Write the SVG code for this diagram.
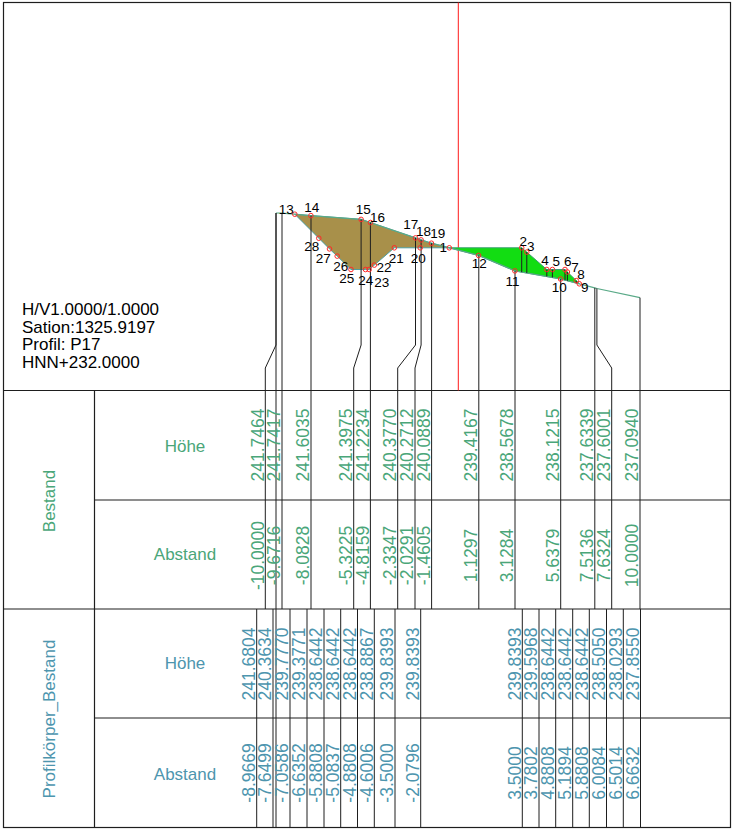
<svg xmlns="http://www.w3.org/2000/svg" width="736" height="832" viewBox="0 0 736 832">
<style>
.ln{stroke:#1e1e1e;stroke-width:1;fill:none}
.grid{stroke:#1e1e1e;stroke-width:1.2;fill:none}
.tx{font-family:"Liberation Sans",Arial,sans-serif}
.bt{font-family:"Liberation Sans",Arial,sans-serif;font-size:17.5px;fill:#4aa679;text-anchor:middle}
.pk{font-family:"Liberation Sans",Arial,sans-serif;font-size:17.5px;fill:#4d95ae;text-anchor:middle}
.rl{font-size:17px}
.lab{font-family:"Liberation Sans",Arial,sans-serif;font-size:13.5px;fill:#000;text-anchor:middle}
.pc{fill:none;stroke:#ff2a2a;stroke-width:1}
</style>
<rect width="736" height="832" fill="#fff"/>
<g id="frame">
<rect x="3.5" y="2.5" width="727" height="825" class="grid" stroke="#333"/>
<line x1="3.5" y1="390.5" x2="730.5" y2="390.5" class="grid"/>
<line x1="3.5" y1="609" x2="730.5" y2="609" class="grid"/>
<line x1="94.5" y1="500" x2="730.5" y2="500" class="grid"/>
<line x1="94.5" y1="718" x2="730.5" y2="718" class="grid"/>
<line x1="94.5" y1="390.5" x2="94.5" y2="827.5" class="grid"/>
</g>
<g id="info" class="tx" font-size="17" fill="#000">
<text x="22" y="315">H/V1.0000/1.0000</text>
<text x="22" y="332.7">Sation:1325.9197</text>
<text x="22" y="350.4">Profil: P17</text>
<text x="22" y="368">HNN+232.0000</text>
</g>
<g id="axis">
<line x1="458.3" y1="2.5" x2="458.3" y2="390.5" stroke="#ff1a1a" stroke-width="1"/>
</g>
<g id="profile">
<polygon points="294.8,214.2 310.9,215.6 361.1,219.35 370.35,222.5 415.5,237.9 421.07,239.85 431.4,243.2 449.3,247.8 420.2,247.8 394.3,247.8 374.3,265.1 369.2,269.5 365.5,269.5 351,269.5 337.2,256.1 329.5,248.9 318.8,238.2" fill="#a8904a" stroke="#4e9ea0" stroke-width="1"/>
<polygon points="449.3,247.8 521.7,247.8 526.8,252.1 546.8,269.5 552.4,269.5 565,269.5 567.4,272 576.3,280.6 579.3,283.8 560.6,279 514.94,270.85 478.56,255.4" fill="#12dd12" stroke="#3aa070" stroke-width="1"/>
<polyline points="276,213 281.98,213.09 310.9,215.6 361.1,219.35 370.35,222.5 415.5,237.9 421.07,239.85 431.4,243.2 478.56,255.4 514.94,270.85 560.6,279 594.75,287.85 596.9,288.5 640,297.7" fill="none" stroke="#5aaa88" stroke-width="1.2"/>
</g>
<g id="connectors">
<polyline class="ln" points="276,213 276,345 265.3,368 265.3,609"/>
<line class="ln" x1="276" y1="213" x2="276" y2="827.5"/>
<line class="ln" x1="282" y1="213" x2="282" y2="609"/>
<line class="ln" x1="311" y1="215.6" x2="311" y2="609"/>
<polyline class="ln" points="361.1,219.4 361.1,345 353.7,368 353.7,609"/>
<line class="ln" x1="370.4" y1="222.5" x2="370.4" y2="609"/>
<polyline class="ln" points="415.5,237.9 415.5,345 397.7,368 397.7,609"/>
<polyline class="ln" points="421.1,239.9 421.1,345 415,368 415,609"/>
<line class="ln" x1="431.6" y1="243.2" x2="431.6" y2="609"/>
<line class="ln" x1="478.8" y1="255.4" x2="478.8" y2="609"/>
<line class="ln" x1="515" y1="270.9" x2="515" y2="609"/>
<line class="ln" x1="560.7" y1="279" x2="560.7" y2="609"/>
<line class="ln" x1="594.8" y1="287.9" x2="594.8" y2="609"/>
<polyline class="ln" points="596.9,288.5 596.9,345 611.7,368 611.7,609"/>
<line class="ln" x1="640" y1="297.7" x2="640" y2="609"/>
<line class="ln" x1="521.7" y1="247.8" x2="521.7" y2="272.1"/>
<line class="ln" x1="526.8" y1="252.1" x2="526.8" y2="273"/>
<line class="ln" x1="546.8" y1="269.5" x2="546.8" y2="276.5"/>
<line class="ln" x1="552.4" y1="269.5" x2="552.4" y2="277.5"/>
<line class="ln" x1="565" y1="269.5" x2="565" y2="280.1"/>
<line class="ln" x1="567.4" y1="272" x2="567.4" y2="280.8"/>
<line class="ln" x1="576.3" y1="280.6" x2="576.3" y2="283.1"/>
<line class="ln" x1="256.7" y1="609" x2="256.7" y2="827.5"/>
<line class="ln" x1="273" y1="609" x2="273" y2="827.5"/>
<line class="ln" x1="290" y1="609" x2="290" y2="827.5"/>
<line class="ln" x1="307" y1="609" x2="307" y2="827.5"/>
<line class="ln" x1="324" y1="609" x2="324" y2="827.5"/>
<line class="ln" x1="340.7" y1="609" x2="340.7" y2="827.5"/>
<line class="ln" x1="357.5" y1="609" x2="357.5" y2="827.5"/>
<line class="ln" x1="374.3" y1="609" x2="374.3" y2="827.5"/>
<line class="ln" x1="395" y1="609" x2="395" y2="827.5"/>
<line class="ln" x1="420.7" y1="609" x2="420.7" y2="827.5"/>
<line class="ln" x1="522.3" y1="609" x2="522.3" y2="827.5"/>
<line class="ln" x1="539" y1="609" x2="539" y2="827.5"/>
<line class="ln" x1="555.7" y1="609" x2="555.7" y2="827.5"/>
<line class="ln" x1="572.7" y1="609" x2="572.7" y2="827.5"/>
<line class="ln" x1="589.3" y1="609" x2="589.3" y2="827.5"/>
<line class="ln" x1="606.5" y1="609" x2="606.5" y2="827.5"/>
<line class="ln" x1="623.3" y1="609" x2="623.3" y2="827.5"/>
<line class="ln" x1="640.5" y1="609" x2="640.5" y2="827.5"/>
</g>
<g id="points">
<circle class="pc" cx="294.8" cy="214.2" r="2.3"/>
<circle class="pc" cx="310.9" cy="215.6" r="2.3"/>
<circle class="pc" cx="361.1" cy="219.4" r="2.3"/>
<circle class="pc" cx="370.4" cy="222.5" r="2.3"/>
<circle class="pc" cx="415.5" cy="237.9" r="2.3"/>
<circle class="pc" cx="421.1" cy="239.9" r="2.3"/>
<circle class="pc" cx="431.4" cy="243.2" r="2.3"/>
<circle class="pc" cx="449.3" cy="247.8" r="2.3"/>
<circle class="pc" cx="420.2" cy="247.8" r="2.3"/>
<circle class="pc" cx="394.3" cy="247.8" r="2.3"/>
<circle class="pc" cx="374.3" cy="265.1" r="2.3"/>
<circle class="pc" cx="369.2" cy="269.5" r="2.3"/>
<circle class="pc" cx="365.5" cy="269.5" r="2.3"/>
<circle class="pc" cx="351" cy="269.5" r="2.3"/>
<circle class="pc" cx="337.2" cy="256.1" r="2.3"/>
<circle class="pc" cx="329.5" cy="248.9" r="2.3"/>
<circle class="pc" cx="318.8" cy="238.2" r="2.3"/>
<circle class="pc" cx="478.6" cy="255.4" r="2.3"/>
<circle class="pc" cx="521.7" cy="247.8" r="2.3"/>
<circle class="pc" cx="526.8" cy="252.1" r="2.3"/>
<circle class="pc" cx="514.9" cy="270.9" r="2.3"/>
<circle class="pc" cx="546.8" cy="269.5" r="2.3"/>
<circle class="pc" cx="552.4" cy="269.5" r="2.3"/>
<circle class="pc" cx="565" cy="269.5" r="2.3"/>
<circle class="pc" cx="567.4" cy="272" r="2.3"/>
<circle class="pc" cx="560.6" cy="279" r="2.3"/>
<circle class="pc" cx="576.3" cy="280.6" r="2.3"/>
<circle class="pc" cx="579.3" cy="283.8" r="2.3"/>
</g>
<g id="point-labels">
<text class="lab" x="286.3" y="214.3">13</text>
<text class="lab" x="311.7" y="211.7">14</text>
<text class="lab" x="363.3" y="214">15</text>
<text class="lab" x="377.5" y="222.3">16</text>
<text class="lab" x="410.8" y="229.3">17</text>
<text class="lab" x="423.5" y="236">18</text>
<text class="lab" x="437.8" y="238.3">19</text>
<text class="lab" x="443.3" y="252.3">1</text>
<text class="lab" x="418.3" y="262.7">20</text>
<text class="lab" x="396.3" y="262.7">21</text>
<text class="lab" x="384" y="271.7">22</text>
<text class="lab" x="381.7" y="287">23</text>
<text class="lab" x="365.8" y="285">24</text>
<text class="lab" x="346.7" y="283.3">25</text>
<text class="lab" x="340.8" y="270.7">26</text>
<text class="lab" x="323.3" y="262.7">27</text>
<text class="lab" x="311.7" y="250.7">28</text>
<text class="lab" x="479.2" y="268.3">12</text>
<text class="lab" x="523.3" y="246">2</text>
<text class="lab" x="530.7" y="251">3</text>
<text class="lab" x="512.5" y="286">11</text>
<text class="lab" x="545" y="265">4</text>
<text class="lab" x="556.3" y="266">5</text>
<text class="lab" x="567.7" y="266">6</text>
<text class="lab" x="575" y="271.7">7</text>
<text class="lab" x="581" y="279.3">8</text>
<text class="lab" x="559.2" y="291.7">10</text>
<text class="lab" x="584.7" y="292.3">9</text>
</g>
<g id="row-labels">
<text class="bt rl" transform="translate(55,501) rotate(-90)">Bestand</text>
<text class="bt rl" x="185" y="451.7">Höhe</text>
<text class="bt rl" x="185" y="560">Abstand</text>
<text class="pk rl" transform="translate(55,719) rotate(-90)">Profilkörper_Bestand</text>
<text class="pk rl" x="185" y="669">Höhe</text>
<text class="pk rl" x="185" y="780">Abstand</text>
</g>
<g id="bestand-hoehe" class="bt">
<text transform="translate(263.6,445) rotate(-90)">241.7464</text>
<text transform="translate(280.3,445) rotate(-90)">241.7417</text>
<text transform="translate(309.3,445) rotate(-90)">241.6035</text>
<text transform="translate(352,445) rotate(-90)">241.3975</text>
<text transform="translate(368.7,445) rotate(-90)">241.2234</text>
<text transform="translate(396,445) rotate(-90)">240.3770</text>
<text transform="translate(413.3,445) rotate(-90)">240.2712</text>
<text transform="translate(429.9,445) rotate(-90)">240.0889</text>
<text transform="translate(477.1,445) rotate(-90)">239.4167</text>
<text transform="translate(513.3,445) rotate(-90)">238.5678</text>
<text transform="translate(559,445) rotate(-90)">238.1215</text>
<text transform="translate(593.1,445) rotate(-90)">237.6339</text>
<text transform="translate(610,445) rotate(-90)">237.6001</text>
<text transform="translate(638.3,445) rotate(-90)">237.0940</text>
</g>
<g id="bestand-abstand" class="bt">
<text transform="translate(263.6,555.5) rotate(-90)">-10.0000</text>
<text transform="translate(280.3,555.5) rotate(-90)">-9.6716</text>
<text transform="translate(309.3,555.5) rotate(-90)">-8.0828</text>
<text transform="translate(352,555.5) rotate(-90)">-5.3225</text>
<text transform="translate(368.7,555.5) rotate(-90)">-4.8159</text>
<text transform="translate(396,555.5) rotate(-90)">-2.3347</text>
<text transform="translate(413.3,555.5) rotate(-90)">-2.0291</text>
<text transform="translate(429.9,555.5) rotate(-90)">-1.4605</text>
<text transform="translate(477.1,555.5) rotate(-90)">1.1297</text>
<text transform="translate(513.3,555.5) rotate(-90)">3.1284</text>
<text transform="translate(559,555.5) rotate(-90)">5.6379</text>
<text transform="translate(593.1,555.5) rotate(-90)">7.5136</text>
<text transform="translate(610,555.5) rotate(-90)">7.6324</text>
<text transform="translate(638.3,555.5) rotate(-90)">10.0000</text>
</g>
<g id="pk-hoehe" class="pk">
<text transform="translate(255,664) rotate(-90)">241.6804</text>
<text transform="translate(271.3,664) rotate(-90)">240.3634</text>
<text transform="translate(288.3,664) rotate(-90)">239.7770</text>
<text transform="translate(305.3,664) rotate(-90)">239.3771</text>
<text transform="translate(322.3,664) rotate(-90)">238.6442</text>
<text transform="translate(339,664) rotate(-90)">238.6442</text>
<text transform="translate(355.8,664) rotate(-90)">238.6442</text>
<text transform="translate(372.6,664) rotate(-90)">238.8867</text>
<text transform="translate(393.3,664) rotate(-90)">239.8393</text>
<text transform="translate(419,664) rotate(-90)">239.8393</text>
<text transform="translate(520.6,664) rotate(-90)">239.8393</text>
<text transform="translate(537.3,664) rotate(-90)">239.5968</text>
<text transform="translate(554,664) rotate(-90)">238.6442</text>
<text transform="translate(571,664) rotate(-90)">238.6442</text>
<text transform="translate(587.6,664) rotate(-90)">238.6442</text>
<text transform="translate(604.8,664) rotate(-90)">238.5050</text>
<text transform="translate(621.6,664) rotate(-90)">238.0293</text>
<text transform="translate(638.8,664) rotate(-90)">237.8550</text>
</g>
<g id="pk-abstand" class="pk">
<text transform="translate(255,773) rotate(-90)">-8.9669</text>
<text transform="translate(271.3,773) rotate(-90)">-7.6499</text>
<text transform="translate(288.3,773) rotate(-90)">-7.0586</text>
<text transform="translate(305.3,773) rotate(-90)">-6.6352</text>
<text transform="translate(322.3,773) rotate(-90)">-5.8808</text>
<text transform="translate(339,773) rotate(-90)">-5.0837</text>
<text transform="translate(355.8,773) rotate(-90)">-4.8808</text>
<text transform="translate(372.6,773) rotate(-90)">-4.6006</text>
<text transform="translate(393.3,773) rotate(-90)">-3.5000</text>
<text transform="translate(419,773) rotate(-90)">-2.0796</text>
<text transform="translate(520.6,773) rotate(-90)">3.5000</text>
<text transform="translate(537.3,773) rotate(-90)">3.7802</text>
<text transform="translate(554,773) rotate(-90)">4.8808</text>
<text transform="translate(571,773) rotate(-90)">5.1894</text>
<text transform="translate(587.6,773) rotate(-90)">5.8808</text>
<text transform="translate(604.8,773) rotate(-90)">6.0084</text>
<text transform="translate(621.6,773) rotate(-90)">6.5014</text>
<text transform="translate(638.8,773) rotate(-90)">6.6632</text>
</g>
</svg>
